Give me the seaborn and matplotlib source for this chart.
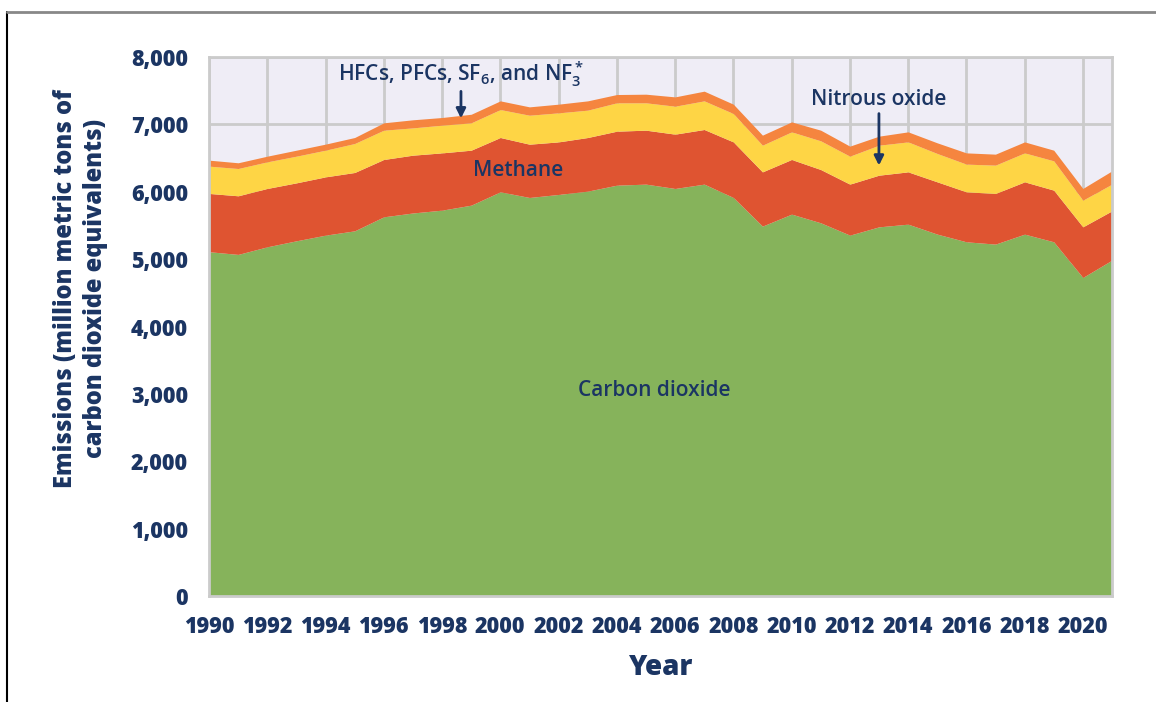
import numpy as np
import pandas as pd
import matplotlib.pyplot as plt
import seaborn as sns
from matplotlib.lines import Line2D
from matplotlib.ticker import FuncFormatter

# Values (million metric tons CO2 equivalents)
years = list(range(1990, 2022))
carbon_dioxide = [5110, 5070, 5183, 5272, 5356, 5420, 5628, 5685, 5727, 5801,
                  5999, 5915, 5960, 6009, 6098, 6113, 6049, 6113, 5915, 5490,
                  5668, 5539, 5356, 5479, 5519, 5371, 5257, 5223, 5371, 5257,
                  4728, 4985]
methane = [865, 870, 866, 860, 865, 866, 851, 858, 850, 816,
           806, 791, 780, 796, 801, 801, 806, 811, 825, 805,
           811, 791, 757, 767, 776, 776, 742, 752, 776, 767,
           751, 732]
nitrous_oxide = [405, 405, 395, 396, 396, 430, 435, 405, 411, 406,
                 415, 430, 431, 406, 421, 406, 415, 425, 421, 396,
                 410, 426, 415, 445, 445, 421, 411, 420, 430, 435,
                 396, 396]
fluorinated = [89, 85, 84, 89, 90, 89, 109, 120, 114, 127,
               129, 124, 129, 138, 123, 128, 138, 144, 139, 149,
               148, 158, 149, 134, 149, 158, 167, 163, 163, 158,
               174, 197]

gases = ['Carbon dioxide', 'Methane', 'Nitrous oxide', 'HFCs, PFCs, SF6, and NF3']
gas_colors = ['#86b35b', '#df5431', '#fed545', '#f5853f']
navy = '#1b3563'

df = pd.DataFrame({'year': years,
                   'Carbon dioxide': carbon_dioxide,
                   'Methane': methane,
                   'Nitrous oxide': nitrous_oxide,
                   'HFCs, PFCs, SF6, and NF3': fluorinated})

sns.set_theme(style='whitegrid')
plt.rcParams['font.family'] = ['Open Sans', 'DejaVu Sans']
plt.rcParams['mathtext.fontset'] = 'custom'
plt.rcParams['mathtext.rm'] = 'Open Sans:semibold'
plt.rcParams['mathtext.it'] = 'Open Sans:semibold'
plt.rcParams['mathtext.bf'] = 'Open Sans:bold'
plt.rcParams['mathtext.default'] = 'rm'

fig = plt.figure(figsize=(11.56, 7.02), dpi=100)
ax = fig.add_axes([0.1808, 0.151, 0.7811, 0.7678])
ax.set_facecolor('#efedf6')

ax.stackplot(df['year'], df[gases].T.values, colors=gas_colors, linewidth=0)

ax.set_xlim(1990, 2021)
ax.set_ylim(0, 8000)
ax.set_xticks(range(1990, 2021, 2))
ax.set_yticks(range(0, 8001, 1000))
ax.yaxis.set_major_formatter(FuncFormatter(lambda v, p: f'{int(v):,}'))
ax.grid(True, color='#cbcbcb', linewidth=2)
ax.set_axisbelow(True)
for s in ax.spines.values():
    s.set_visible(True)
    s.set_color('#cbcbcb')
    s.set_linewidth(2)

ax.tick_params(axis='both', colors='#c4c4c4', length=7, width=2,
               labelcolor=navy, labelsize=15.5)
ax.tick_params(axis='x', pad=7)
ax.tick_params(axis='y', pad=8)
for lab in ax.get_xticklabels() + ax.get_yticklabels():
    lab.set_fontweight('heavy')

ax.set_xlabel('Year', fontsize=20, fontweight='heavy', color=navy, labelpad=10)
ax.set_ylabel('Emissions (million metric tons of\ncarbon dioxide equivalents)',
              fontsize=17, fontweight='heavy', color=navy, linespacing=1.25)
ax.yaxis.set_label_coords(-0.112, 0.571)

# Area labels
ax.text(2005.3, 3050, 'Carbon dioxide', fontsize=15, color=navy,
        ha='center', va='center')
ax.text(2000.6, 6320, 'Methane', fontsize=15, color=navy,
        ha='center', va='center')
ax.text(2013.0, 7370, 'Nitrous oxide', fontsize=15, color=navy,
        ha='center', va='center')
ax.text(1998.65, 7740, r'HFCs, PFCs, SF$_6$, and NF$_3^*$', fontsize=15,
        color=navy, ha='center', va='center')
for t in ax.texts:
    t.set_fontweight('semibold')

arrow = dict(arrowstyle='-|>', color=navy, lw=2, mutation_scale=14,
             shrinkA=0, shrinkB=0)
ax.annotate('', xy=(2013.0, 6390), xytext=(2013.0, 7160), arrowprops=arrow)
ax.annotate('', xy=(1998.65, 7090), xytext=(1998.65, 7490), arrowprops=arrow)

# Thin frame around the figure as in the reference
fig.add_artist(Line2D([7 / 1156, 7 / 1156], [0, 1 - 12 / 702], color='black', lw=1.5))
fig.add_artist(Line2D([7 / 1156, 1], [1 - 12 / 702, 1 - 12 / 702], color='#888888', lw=2))

fig.savefig('out.png', dpi=100)
